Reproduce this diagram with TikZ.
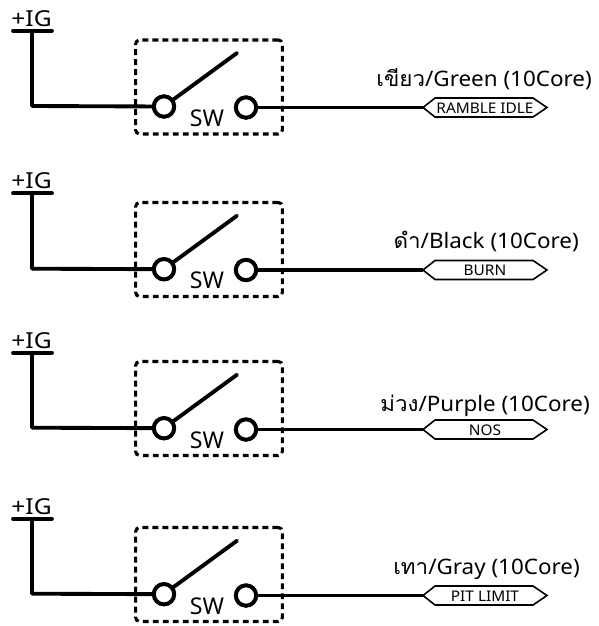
\documentclass[tikz,border=0pt]{standalone}
\usepackage{fontspec}
\setmainfont[FakeStretch=1.05]{Noto Sans}
\newfontfamily\plainfont{Noto Sans}
\newfontfamily\wideigfont[FakeStretch=1.12]{Noto Sans}
\newfontfamily\thaifont[Script=Thai,FakeStretch=1.05]{Loma}
\tikzset{
  wire/.style={line width=2.9pt},
  contact/.style={circle,draw,line width=2.9pt,fill=white,minimum size=15.2pt,inner sep=0pt},
  swbox/.style={draw,line width=2.3pt,dash pattern=on 4.4pt off 3.1pt,rounded corners=3pt,minimum width=110pt,minimum height=70.5pt,inner sep=0pt},
  tagbox/.style={draw,line width=1.2pt,fill=white},
  tagtext/.style={font=\fontsize{11}{11}\selectfont,inner sep=0pt},
  colourtext/.style={font=\fontsize{16}{16}\selectfont,inner sep=0pt,anchor=base east},
  igtext/.style={font=\wideigfont\fontsize{16.5}{16.5}\selectfont,inner sep=0pt,anchor=base},
  swtext/.style={font=\plainfont\fontsize{17.3}{17.3}\selectfont,inner sep=0pt}
}
% #1 id, #2 IG baseline y, #3 bar y, #4 wire-in y, #5 box centre y, #6 hexagon/out y, #7 SW y, #8 tag
\newcommand{\swrow}[8]{%
 \node[igtext] (ig#1) at (31.5,#2) {+IG};
 \coordinate (bl#1) at (13,#3);
 \coordinate (br#1) at (52,#3);
 \coordinate (bm#1) at (32,#3);
 \draw[wire,line cap=round] (bl#1) -- (br#1);
 \node[swbox] (box#1) at (209,#5) {};
 \coordinate (tip#1) at (237,#4-53);
 \coordinate (corner#1) at (32,#4);
 \coordinate (hl#1) at (423,#6);
 \coordinate (hr#1) at (547,#6);
 \node[contact] (ca#1) at (164,#4+0.5) {};
 \node[contact] (cb#1) at (246,#6) {};
 \draw[wire,line join=round] (bm#1) -- (corner#1) -- (ca#1);
 \draw[wire,line cap=round] (ca#1) ++(8,-6) -- (tip#1);
 \node[swtext] (sw#1) at (207,#7) {SW};
 \draw[tagbox] (hl#1) -- (435,#6-9.5) -- (533,#6-9.5) -- (hr#1) -- (533,#6+9.5) -- (435,#6+9.5) -- cycle;
 \draw[wire] (cb#1) -- (hl#1);
 \node[contact] at (cb#1) {};
 \node[contact] at (ca#1) {};
 \node[tagtext] (tag#1) at (485,#6+0.5) {#8};
}
\begin{document}
\begin{tikzpicture}[x=0.75pt,y=-0.75pt]
\useasboundingbox (0,0) rectangle (599,626);
\swrow{a}{26.7}{30.7}{106}{87}{107.5}{118}{RAMBLE IDLE}
\node[colourtext] (la) at (592,86.7) {{\thaifont เขียว}/Green (10Core)};
\swrow{b}{188}{193.3}{268.7}{249.5}{270}{280.7}{BURN}
\node[colourtext] (lb) at (579,248) {{\thaifont ดำ}/Black (10Core)};
\swrow{c}{348}{352.7}{427.7}{408.5}{429.5}{440}{NOS}
\node[colourtext] (lc) at (590,411.7) {{\thaifont ม่วง}/Purple (10Core)};
\swrow{d}{514}{518.7}{593.7}{574.5}{595.5}{606}{PIT LIMIT}
\node[colourtext] (ld) at (580,574) {{\thaifont เทา}/Gray (10Core)};
\end{tikzpicture}
\end{document}
